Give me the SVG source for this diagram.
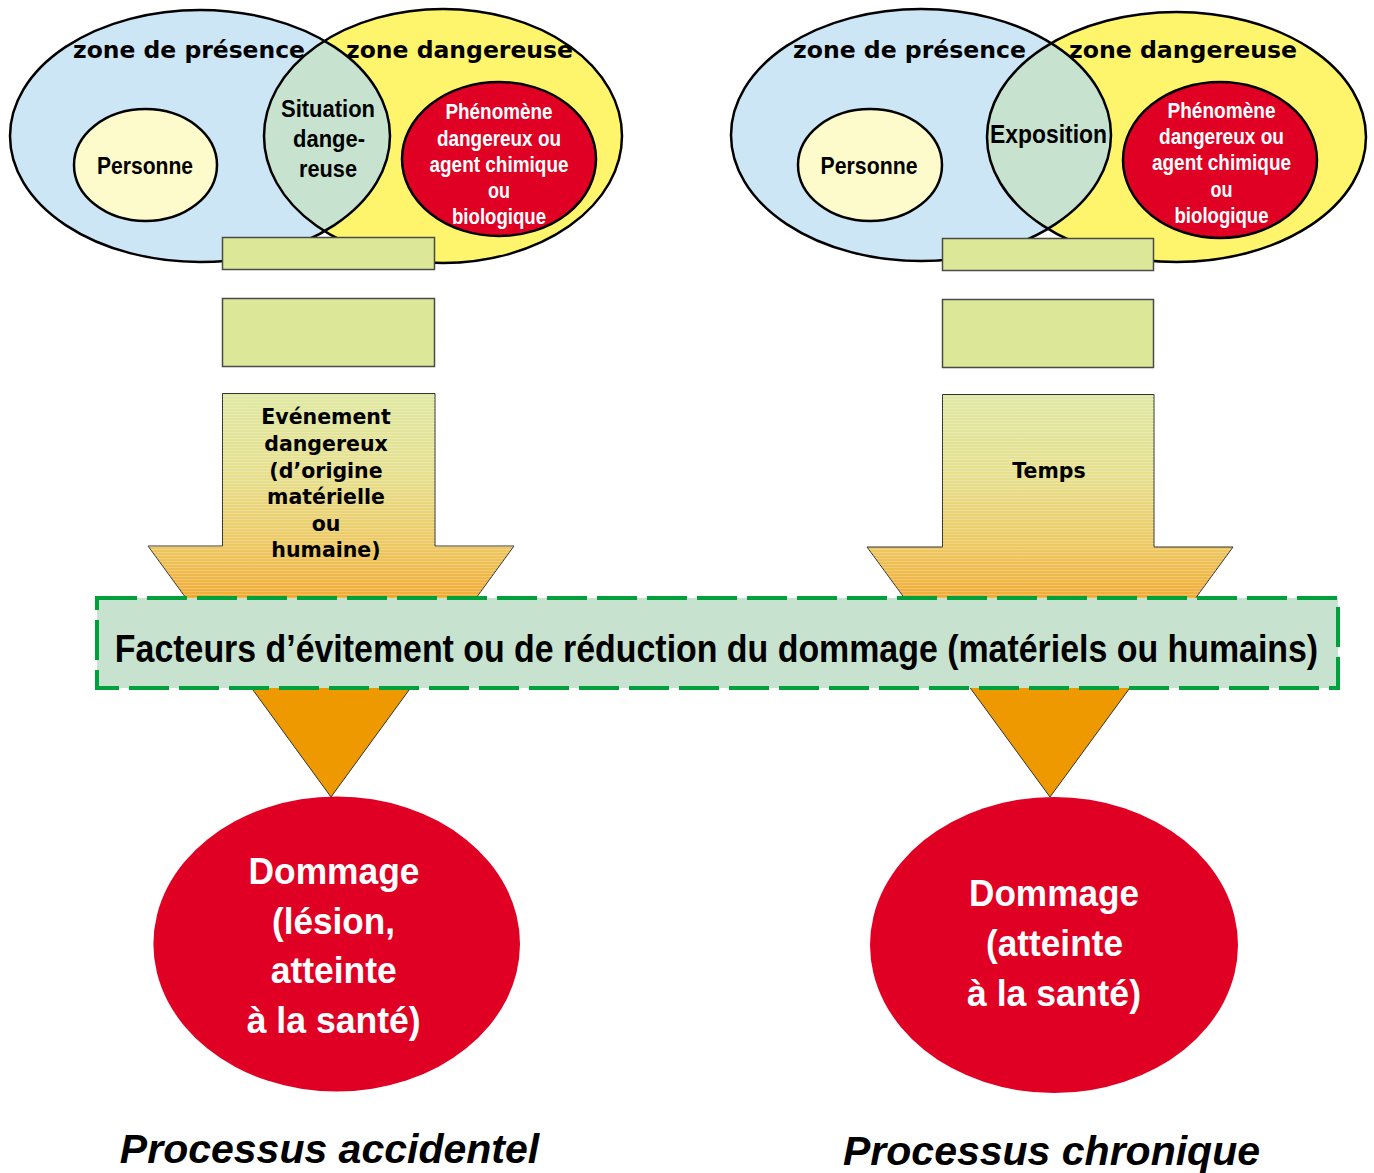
<svg xmlns="http://www.w3.org/2000/svg" width="1374" height="1173" viewBox="0 0 1374 1173">
  <defs>
    <style>
      .zone { font-family: "DejaVu Sans", "Liberation Sans", sans-serif; font-weight: bold; font-size: 23px; fill: #000; text-anchor: middle; }
      .lbl { font-family: "Liberation Sans", Arial, sans-serif; font-weight: bold; fill: #000; text-anchor: middle; }
      .wlbl { font-family: "Liberation Sans", Arial, sans-serif; font-weight: bold; fill: #fff; text-anchor: middle; }
      .arr { font-family: "DejaVu Sans", "Liberation Sans", sans-serif; font-weight: bold; font-size: 20.5px; fill: #000; text-anchor: middle; }
      .title { font-family: "Liberation Sans", Arial, sans-serif; font-weight: bold; font-style: italic; font-size: 41px; fill: #000; text-anchor: middle; }
      .blue { fill: #cce6f6; }
      .yellow { fill: #fff56c; }
      .lens { fill: #c7e3cf; }
      .outline { fill: none; stroke: #000; stroke-width: 2.5; }
      .pers { fill: #fdfacc; stroke: #000; stroke-width: 2.5; }
      .red { fill: #df0024; stroke: #000; stroke-width: 2.5; }
      .bar { fill: #dce897; stroke: #4a4a4a; stroke-width: 1.5; }
      .dmg { fill: #df0024; }
      .arrow { stroke: #333; stroke-width: 1; }
    </style>
    <linearGradient id="gL" gradientUnits="userSpaceOnUse" x1="0" y1="393" x2="0" y2="797">
      <stop offset="0" stop-color="#dfe8a2"/>
      <stop offset="0.2" stop-color="#e6e08f"/>
      <stop offset="0.38" stop-color="#edc862"/>
      <stop offset="0.5" stop-color="#f0ae3a"/>
      <stop offset="0.51" stop-color="#ee9900"/>
      <stop offset="1" stop-color="#ee9900"/>
    </linearGradient>
    <linearGradient id="gR" gradientUnits="userSpaceOnUse" x1="0" y1="394" x2="0" y2="797">
      <stop offset="0" stop-color="#dfe8a2"/>
      <stop offset="0.2" stop-color="#e6e08f"/>
      <stop offset="0.38" stop-color="#edc862"/>
      <stop offset="0.5" stop-color="#f0ae3a"/>
      <stop offset="0.51" stop-color="#ee9900"/>
      <stop offset="1" stop-color="#ee9900"/>
    </linearGradient>
    <pattern id="hatch" width="8" height="3" patternUnits="userSpaceOnUse">
      <rect x="0" y="0" width="8" height="1" fill="#ffffff" opacity="0.22"/>
    </pattern>
    <clipPath id="clipBlueL"><ellipse cx="200" cy="136" rx="190" ry="126"/></clipPath>
    <clipPath id="clipBlueR"><ellipse cx="921" cy="135" rx="190" ry="126"/></clipPath>
  </defs>

  <rect x="0" y="0" width="1374" height="1173" fill="#ffffff"/>

  <!-- Left Venn diagram -->
  <g id="venn-left">
    <ellipse class="blue" cx="200" cy="136" rx="190" ry="126"/>
    <ellipse class="yellow" cx="443" cy="136" rx="179" ry="127"/>
    <ellipse class="lens" cx="443" cy="136" rx="179" ry="127" clip-path="url(#clipBlueL)"/>
    <ellipse class="outline" cx="200" cy="136" rx="190" ry="126"/>
    <ellipse class="outline" cx="443" cy="136" rx="179" ry="127"/>
    <text class="zone" x="189" y="58" textLength="232" lengthAdjust="spacingAndGlyphs">zone de présence</text>
    <text class="zone" x="459.5" y="58" textLength="227" lengthAdjust="spacingAndGlyphs">zone dangereuse</text>
  </g>
  <g id="personne-left">
    <ellipse class="pers" cx="145.5" cy="165" rx="71.5" ry="56"/>
    <text class="lbl" x="145" y="174" font-size="24" textLength="96" lengthAdjust="spacingAndGlyphs">Personne</text>
  </g>
  <g id="situation-left">
    <text class="lbl" x="328" y="117" font-size="24" textLength="94" lengthAdjust="spacingAndGlyphs">Situation</text>
    <text class="lbl" x="329" y="147" font-size="24" textLength="72" lengthAdjust="spacingAndGlyphs">dange-</text>
    <text class="lbl" x="328" y="177" font-size="24" textLength="58" lengthAdjust="spacingAndGlyphs">reuse</text>
  </g>
  <g id="phenomene-left">
    <ellipse class="red" cx="499" cy="159" rx="97" ry="77"/>
    <text class="wlbl" x="499" y="119" font-size="22" textLength="107" lengthAdjust="spacingAndGlyphs">Phénomène</text>
    <text class="wlbl" x="499" y="146" font-size="22" textLength="124" lengthAdjust="spacingAndGlyphs">dangereux ou</text>
    <text class="wlbl" x="499" y="172" font-size="22" textLength="139" lengthAdjust="spacingAndGlyphs">agent chimique</text>
    <text class="wlbl" x="499" y="198" font-size="22" textLength="22" lengthAdjust="spacingAndGlyphs">ou</text>
    <text class="wlbl" x="499" y="224" font-size="22" textLength="94" lengthAdjust="spacingAndGlyphs">biologique</text>
  </g>

  <!-- Right Venn diagram -->
  <g id="venn-right">
    <ellipse class="blue" cx="921" cy="135" rx="190" ry="126"/>
    <ellipse class="yellow" cx="1176.5" cy="137" rx="189.5" ry="125"/>
    <ellipse class="lens" cx="1176.5" cy="137" rx="189.5" ry="125" clip-path="url(#clipBlueR)"/>
    <ellipse class="outline" cx="921" cy="135" rx="190" ry="126"/>
    <ellipse class="outline" cx="1176.5" cy="137" rx="189.5" ry="125"/>
    <text class="zone" x="909.5" y="58" textLength="233" lengthAdjust="spacingAndGlyphs">zone de présence</text>
    <text class="zone" x="1183" y="58" textLength="228" lengthAdjust="spacingAndGlyphs">zone dangereuse</text>
  </g>
  <g id="personne-right">
    <ellipse class="pers" cx="870" cy="165" rx="72" ry="56"/>
    <text class="lbl" x="869" y="174" font-size="24" textLength="97" lengthAdjust="spacingAndGlyphs">Personne</text>
  </g>
  <g id="exposition-right">
    <text class="lbl" x="1048.5" y="143" font-size="26" textLength="117" lengthAdjust="spacingAndGlyphs">Exposition</text>
  </g>
  <g id="phenomene-right">
    <ellipse class="red" cx="1220" cy="160" rx="97" ry="78"/>
    <text class="wlbl" x="1221.5" y="118" font-size="22" textLength="108" lengthAdjust="spacingAndGlyphs">Phénomène</text>
    <text class="wlbl" x="1221.5" y="144" font-size="22" textLength="125" lengthAdjust="spacingAndGlyphs">dangereux ou</text>
    <text class="wlbl" x="1221.5" y="170" font-size="22" textLength="139" lengthAdjust="spacingAndGlyphs">agent chimique</text>
    <text class="wlbl" x="1221.5" y="197" font-size="22" textLength="22" lengthAdjust="spacingAndGlyphs">ou</text>
    <text class="wlbl" x="1221.5" y="223" font-size="22" textLength="94" lengthAdjust="spacingAndGlyphs">biologique</text>
  </g>

  <!-- Bars -->
  <g id="bars-left">
    <rect class="bar" x="222.5" y="237.5" width="212" height="32"/>
    <rect class="bar" x="222.5" y="298.5" width="212" height="68"/>
  </g>
  <g id="bars-right">
    <rect class="bar" x="942.5" y="238.5" width="211" height="32"/>
    <rect class="bar" x="942.5" y="299.5" width="211" height="68"/>
  </g>

  <!-- Connectors (big arrows) -->
  <g id="connectors">
    <polygon class="arrow" fill="url(#gL)" points="222.5,393.5 435,393.5 435,546 514,546 331,797 148,546 222.5,546"/>
    <polygon fill="url(#hatch)" points="222.5,394 435,394 435,546 514,546 476,598 186,598 148,546 222.5,546"/>
    <polygon class="arrow" fill="url(#gR)" points="942.5,394.5 1154,394.5 1154,547 1233,547 1050,797 867,547 942.5,547"/>
    <polygon fill="url(#hatch)" points="942.5,395 1154,395 1154,547 1233,547 1196,598 904,598 867,547 942.5,547"/>
  </g>
  <g id="evenement">
    <text class="arr" x="326" y="424">Evénement</text>
    <text class="arr" x="326" y="451">dangereux</text>
    <text class="arr" x="326" y="477.5">(d’origine</text>
    <text class="arr" x="326" y="504">matérielle</text>
    <text class="arr" x="326" y="530.5">ou</text>
    <text class="arr" x="326" y="557">humaine)</text>
  </g>
  <g id="temps">
    <text class="arr" x="1049" y="478">Temps</text>
  </g>

  <!-- Banner -->
  <g id="facteurs">
    <rect x="97" y="598" width="1241" height="90" fill="#c7e3cf" stroke="#00a03c" stroke-width="4" stroke-dasharray="40 10"/>
    <text class="lbl" font-size="38" transform="translate(716.5 662) scale(0.892 1)" x="0" y="0">Facteurs d’évitement ou de réduction du dommage (matériels ou humains)</text>
  </g>

  <!-- Damage ellipses -->
  <g id="dommage-left">
    <ellipse class="dmg" cx="336.7" cy="944" rx="183.3" ry="147.5"/>
    <text class="wlbl" x="334" y="884" font-size="36" textLength="171" lengthAdjust="spacingAndGlyphs">Dommage</text>
    <text class="wlbl" x="333.5" y="934" font-size="36" textLength="123" lengthAdjust="spacingAndGlyphs">(lésion,</text>
    <text class="wlbl" x="333.7" y="983" font-size="36" textLength="126" lengthAdjust="spacingAndGlyphs">atteinte</text>
    <text class="wlbl" x="333.7" y="1033" font-size="36" textLength="174" lengthAdjust="spacingAndGlyphs">à la santé)</text>
  </g>
  <g id="dommage-right">
    <ellipse class="dmg" cx="1054" cy="945" rx="184" ry="148"/>
    <text class="wlbl" x="1054" y="906" font-size="36" textLength="170" lengthAdjust="spacingAndGlyphs">Dommage</text>
    <text class="wlbl" x="1054.5" y="956" font-size="36" textLength="137" lengthAdjust="spacingAndGlyphs">(atteinte</text>
    <text class="wlbl" x="1054" y="1006" font-size="36" textLength="174" lengthAdjust="spacingAndGlyphs">à la santé)</text>
  </g>

  <!-- Titles -->
  <g id="title-left">
    <text class="title" x="329.5" y="1163">Processus accidentel</text>
  </g>
  <g id="title-right">
    <text class="title" x="1051.5" y="1165">Processus chronique</text>
  </g>
</svg>
